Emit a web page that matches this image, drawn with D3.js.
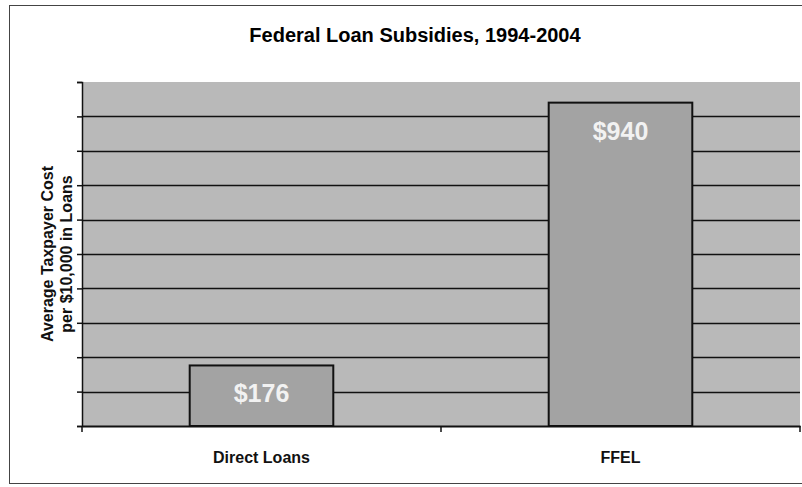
<!DOCTYPE html>
<html>
<head>
<meta charset="utf-8">
<script src="https://cdn.jsdelivr.net/npm/d3@7"></script>
<style>
  body { margin: 0; background: #fff; }
  text { font-family: Arial, "Liberation Sans", sans-serif; font-weight: bold; }
</style>
</head>
<body>
<div id="container"></div>
<script>
// chart data
const categories = ["Direct Loans", "FFEL"];
const subsidies = [176, 940];
const valueLabels = ["$176", "$940"];
const yTicks = [0, 100, 200, 300, 400, 500, 600, 700, 800, 900, 1000];

const w = 802;
const h = 487;
const margin = { top: 82, right: 2, bottom: 61, left: 82 };

const svg = d3.select("#container")
  .append("svg")
  .attr("width", w)
  .attr("height", h);

// outer frame
svg.append("rect")
  .attr("x", 9.5).attr("y", 5.5)
  .attr("width", 800).attr("height", 478)
  .attr("fill", "none")
  .attr("stroke", "#444")
  .attr("stroke-width", 1);

svg.append("text")
  .attr("x", 415)
  .attr("y", 42)
  .attr("text-anchor", "middle")
  .attr("font-size", 20)
  .text("Federal Loan Subsidies, 1994-2004");

const xScale = d3.scaleBand()
  .domain(categories)
  .range([margin.left, w - margin.right])
  .paddingInner(0.6)
  .paddingOuter(0.3);

const yScale = d3.scaleLinear()
  .domain([0, 1000])
  .range([h - margin.bottom, margin.top]);

// plot area background
svg.append("rect")
  .attr("x", margin.left)
  .attr("y", margin.top)
  .attr("width", w - margin.right - margin.left)
  .attr("height", h - margin.bottom - margin.top)
  .attr("fill", "#b9b9b9");

// gridlines
svg.append("g")
  .selectAll("line")
  .data(yTicks.slice(1, -1))
  .enter()
  .append("line")
  .attr("x1", margin.left)
  .attr("x2", w - margin.right)
  .attr("y1", d => Math.round(yScale(d)) + 0.5)
  .attr("y2", d => Math.round(yScale(d)) + 0.5)
  .attr("stroke", "#111")
  .attr("stroke-width", 1.5);

// bars
svg.selectAll(".bar")
  .data(subsidies)
  .enter()
  .append("rect")
  .attr("class", "bar")
  .attr("x", (d, i) => xScale(categories[i]))
  .attr("y", d => yScale(d))
  .attr("width", xScale.bandwidth())
  .attr("height", d => yScale(0) - yScale(d))
  .attr("fill", "#a3a3a3")
  .attr("stroke", "#111")
  .attr("stroke-width", 2);

svg.selectAll(".bar-label")
  .data(subsidies)
  .enter()
  .append("text")
  .attr("class", "bar-label")
  .attr("x", (d, i) => xScale(categories[i]) + xScale.bandwidth() / 2)
  .attr("y", d => yScale(d) + 37)
  .attr("text-anchor", "middle")
  .attr("font-size", 25)
  .attr("fill", "#f2f2f2")
  .text((d, i) => valueLabels[i]);

// axes
const yAxis = d3.axisLeft(yScale).tickValues(yTicks).tickSize(5).tickFormat("");
svg.append("g")
  .attr("transform", `translate(${margin.left}, 0)`)
  .call(yAxis)
  .call(g => g.selectAll("line,path").attr("stroke", "#111").attr("stroke-width", 1.5));

const xAxis = d3.axisBottom(xScale).tickSize(0).tickFormat("");
svg.append("g")
  .attr("transform", `translate(0, ${h - margin.bottom})`)
  .call(xAxis)
  .call(g => g.select("path").attr("stroke", "#111").attr("stroke-width", 2));

// category boundary ticks
const step = xScale.step();
svg.append("g")
  .selectAll("line")
  .data([0, 1, 2])
  .enter()
  .append("line")
  .attr("x1", d => margin.left + d * step)
  .attr("x2", d => margin.left + d * step)
  .attr("y1", h - margin.bottom)
  .attr("y2", h - margin.bottom + 6)
  .attr("stroke", "#111")
  .attr("stroke-width", 1.5);

svg.selectAll(".cat-label")
  .data(categories)
  .enter()
  .append("text")
  .attr("class", "cat-label")
  .attr("x", d => xScale(d) + xScale.bandwidth() / 2)
  .attr("y", 463)
  .attr("text-anchor", "middle")
  .attr("font-size", 16)
  .attr("fill", "#111")
  .text(d => d);

// y axis title
const yTitle = svg.append("text")
  .attr("transform", `translate(0, ${(margin.top + h - margin.bottom) / 2}) rotate(-90)`)
  .attr("text-anchor", "middle")
  .attr("font-size", 16)
  .attr("fill", "#111");
yTitle.append("tspan").attr("x", 0).attr("y", 53).text("Average Taxpayer Cost");
yTitle.append("tspan").attr("x", 0).attr("y", 72).text("per $10,000 in Loans");
</script>
</body>
</html>
